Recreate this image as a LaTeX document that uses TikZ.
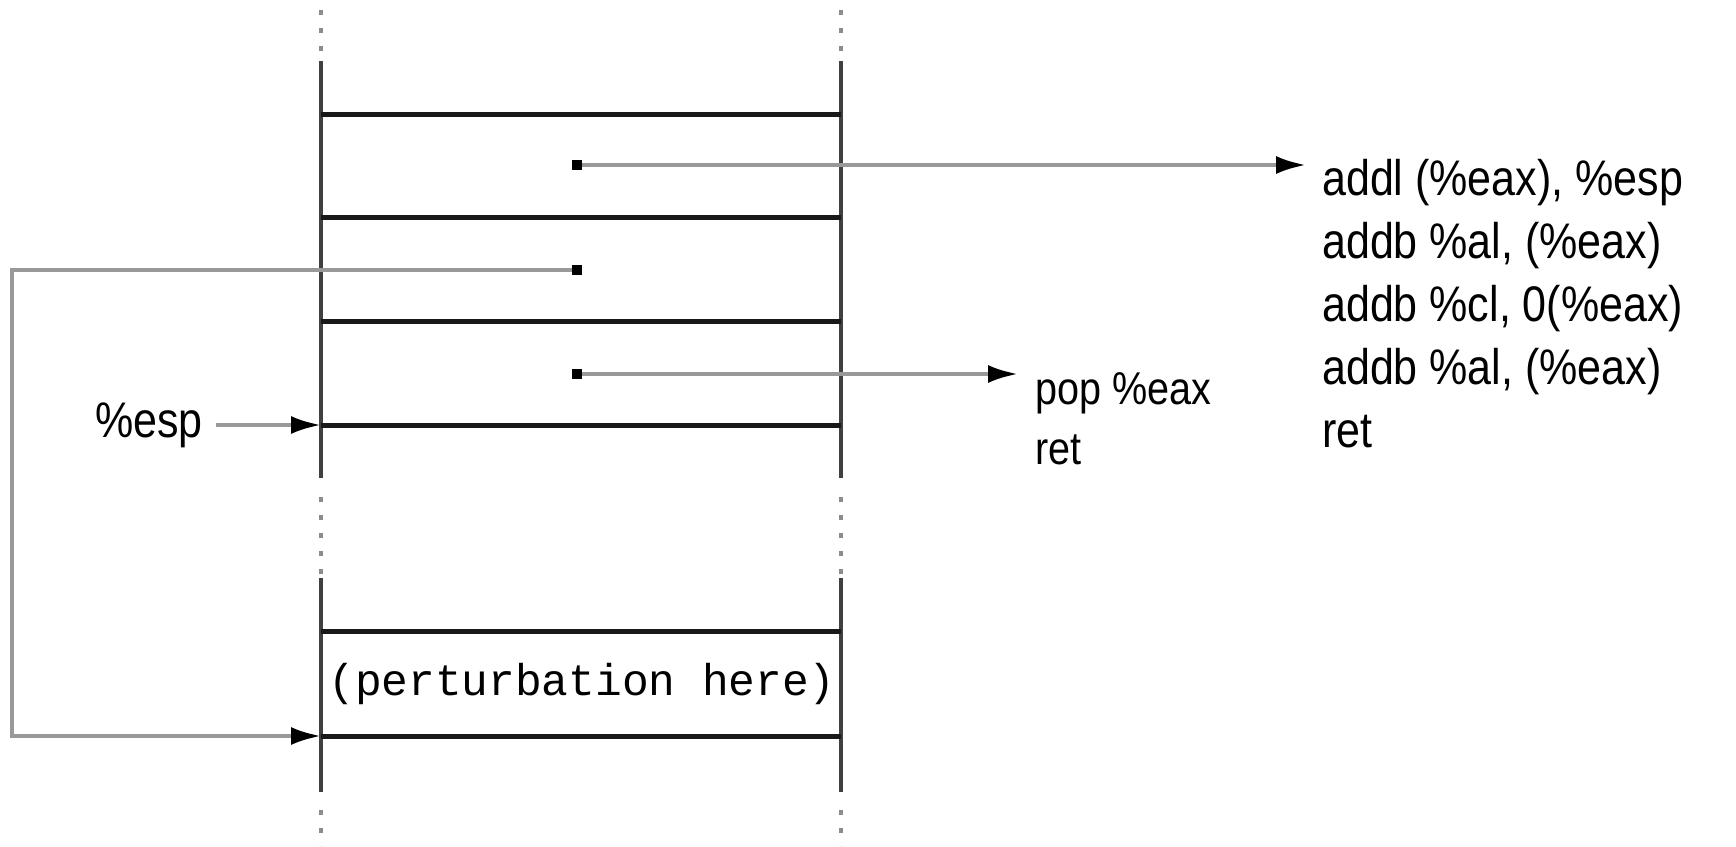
\documentclass[tikz,border=0pt]{standalone}
\usepackage{fontspec}
\setmainfont[FakeStretch=0.86]{Liberation Sans}
\newfontfamily\codemono{Liberation Mono}
\usetikzlibrary{arrows.meta}
\begin{document}
\begin{tikzpicture}[x=1pt,y=-1pt,
  wall/.style={draw=black!75, line width=4pt},
  wallgap/.style={draw=black!45, line width=4pt, dash pattern=on 5pt off 13pt},
  slot/.style={draw=black!90, line width=5pt},
  ptr/.style={draw=black!40, line width=4pt, -{Latex[length=30pt,width=18pt,color=black]}},
  dotmark/.style={rectangle, fill=black, inner sep=0pt, minimum size=10pt},
  code/.style={font=\fontsize{50}{63}\selectfont, align=left, inner sep=0pt, anchor=base west},
]
\useasboundingbox (0,0) rectangle (1736,846);

% stack walls: solid segments with elided (dotted) parts
\foreach \x in {321,841}{
  \draw[wallgap] (\x,10) -- (\x,56);
  \draw[wall] (\x,61) -- (\x,478);
  \draw[wallgap] (\x,497) -- (\x,580);
  \draw[wall] (\x,578) -- (\x,792);
  \draw[wallgap] (\x,810) -- (\x,846);
}

% stack slot boundaries
\foreach \y in {114,217,321,425,631,736}{
  \draw[slot] (321,\y) -- (841,\y);
}

% slot contents
\node[dotmark] (d1) at (577,165) {};
\node[dotmark] (d2) at (577,270) {};
\node[dotmark] (d3) at (577,374) {};
\node[font=\codemono\fontsize{44.5}{44.5}\selectfont, inner sep=0pt] (pert) at (582,684) {(perturbation here)};

% gadget listings (anchored at the baseline of the last line)
\node[code] (g1) at (1322,447) {addl (\%eax), \%esp\\addb \%al, (\%eax)\\addb \%cl, 0(\%eax)\\addb \%al, (\%eax)\\ret};
\node[code, font=\fontsize{46}{60}\selectfont] (g2) at (1035,464) {pop \%eax\\ret};

% stack pointer label
\node[font=\fontsize{50}{60}\selectfont, inner sep=0pt, anchor=east] (esp) at (203,425) {\%esp};
\coordinate (sp) at (321,425);
\coordinate (sp2) at (321,736);
\coordinate (t1) at (1306,165);
\coordinate (t2) at (1018,374);
\coordinate (loop) at (12,270);

% pointers
\draw[ptr] (d1) -- (t1);
\draw[ptr] (d3) -- (t2);
\draw[ptr] (esp.east) ++(13,0) -- (sp);
\draw[ptr] (d2) -- (loop) |- (sp2);
\end{tikzpicture}
\end{document}
